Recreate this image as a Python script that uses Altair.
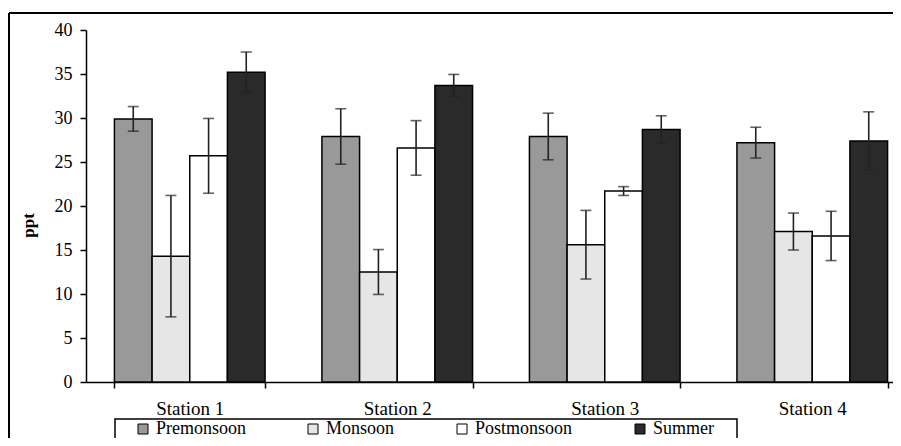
import altair as alt
import pandas as pd

stations = ["Station 1", "Station 2", "Station 3", "Station 4"]
seasons = ["Premonsoon", "Monsoon", "Postmonsoon", "Summer"]
premonsoon = [29.9, 27.9, 27.9, 27.2]
monsoon = [14.3, 12.5, 15.6, 17.1]
postmonsoon = [25.7, 26.6, 21.7, 16.6]
summer = [35.2, 33.7, 28.7, 27.4]
premonsoon_sd = [1.4, 3.15, 2.65, 1.75]
monsoon_sd = [6.9, 2.55, 3.9, 2.1]
postmonsoon_sd = [4.25, 3.1, 0.5, 2.8]
summer_sd = [2.3, 1.25, 1.55, 3.3]
y_ticks = [0, 5, 10, 15, 20, 25, 30, 35, 40]
colors = ["#999999", "#e6e6e6", "#ffffff", "#2a2a2a"]

means = [premonsoon, monsoon, postmonsoon, summer]
sds = [premonsoon_sd, monsoon_sd, postmonsoon_sd, summer_sd]
rows = []
for s_i, season in enumerate(seasons):
    for st_i, st in enumerate(stations):
        m = means[s_i][st_i]
        sd = sds[s_i][st_i]
        rows.append({"station": st, "season": season, "value": m,
                     "lo": m - sd, "hi": m + sd})
df = pd.DataFrame(rows)

FONT = "Liberation Serif"

x_enc = alt.X(
    "station:N", sort=stations,
    scale=alt.Scale(range=[0, 830], paddingInner=0.274, paddingOuter=0.137),
    axis=alt.Axis(title=None, labelAngle=0, tickBand="extent", tickSize=6,
                  labelPadding=11, labelFontSize=19, labelFont=FONT,
                  labelColor="black", domainColor="black", tickColor="black",
                  domainWidth=1.5, tickWidth=1.5),
)
xo_enc = alt.XOffset("season:N", sort=seasons,
                     scale=alt.Scale(paddingInner=0, paddingOuter=0))

base = alt.Chart(df)

bars = base.mark_bar(stroke="black", strokeWidth=1.5).encode(
    x=x_enc,
    xOffset=xo_enc,
    y=alt.Y("value:Q", scale=alt.Scale(domain=[0, 40], nice=False),
            axis=alt.Axis(values=y_ticks, grid=False, tickSize=6, labelPadding=8,
                          labelFontSize=18, labelFont=FONT, labelColor="black",
                          domainColor="black", tickColor="black",
                          domainWidth=1.5, tickWidth=1.5,
                          title="ppt", titleFont=FONT, titleFontSize=17,
                          titleFontWeight="bold", titleColor="black",
                          titleAngle=-90, titleX=-58, titleY=195,
                          titleBaseline="middle", titleAlign="center")),
    color=alt.Color("season:N", sort=seasons,
                    scale=alt.Scale(domain=seasons, range=colors),
                    legend=alt.Legend(orient="none", legendX=48, legendY=390,
                                      direction="horizontal", title=None,
                                      symbolType="square", symbolSize=100,
                                      symbolStrokeColor="black", symbolStrokeWidth=1,
                                      symbolOpacity=1,
                                      labelFontSize=18, labelFont=FONT,
                                      labelColor="black", labelOffset=4,
                                      columnPadding=58, padding=0)),
)

err = base.mark_rule(color="#222222", strokeWidth=1.6).encode(
    x=alt.X("station:N", sort=stations), xOffset=xo_enc,
    y="lo:Q", y2="hi:Q",
)
cap_lo = base.mark_tick(color="#222222", orient="horizontal", size=11,
                        thickness=1.6).encode(
    x=alt.X("station:N", sort=stations), xOffset=xo_enc, y="lo:Q")
cap_hi = base.mark_tick(color="#222222", orient="horizontal", size=11,
                        thickness=1.6).encode(
    x=alt.X("station:N", sort=stations), xOffset=xo_enc, y="hi:Q")

one = pd.DataFrame({"a": [0]})
frame_top = alt.Chart(one).mark_rule(color="black", strokeWidth=2).encode(
    x=alt.value(-77), x2=alt.value(830), y=alt.value(-17), y2=alt.value(-17))
frame_left = alt.Chart(one).mark_rule(color="black", strokeWidth=2).encode(
    x=alt.value(-77), x2=alt.value(-77), y=alt.value(-17), y2=alt.value(480))
legend_box = alt.Chart(one).mark_rect(fillOpacity=0, stroke="black",
                                      strokeWidth=1.5).encode(
    x=alt.value(29), x2=alt.value(651), y=alt.value(389), y2=alt.value(480))

chart = alt.layer(bars, err, cap_lo, cap_hi, frame_top, frame_left, legend_box).properties(
    width=807, height=352,
    autosize=alt.AutoSizeParams(type="none"),
    padding={"left": 78, "top": 22, "right": 0, "bottom": 56},
).configure_view(stroke=None)

chart.save("out.html", embed_options={"renderer": "svg", "actions": False})
